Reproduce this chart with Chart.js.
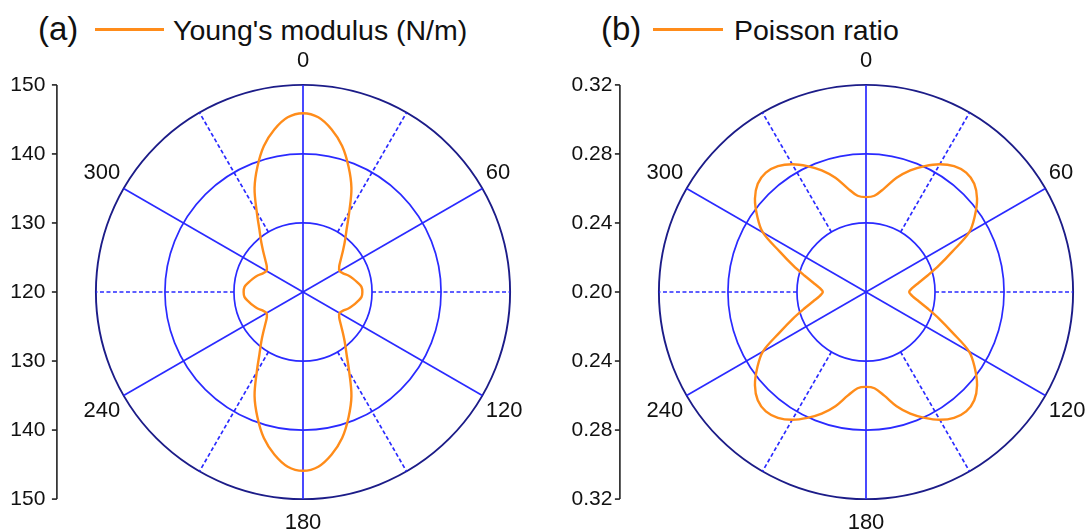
<!DOCTYPE html>
<html>
<head>
<meta charset="utf-8">
<script src="https://cdn.jsdelivr.net/npm/chart.js@4.4.0/dist/chart.umd.min.js"></script>
<style>
  html, body { margin: 0; padding: 0; width: 1091px; height: 531px; overflow: hidden; background: #fff; }
  body { position: relative; font-family: "Liberation Sans", Arial, sans-serif; color: #111; }
  canvas { position: absolute; top: 0; }
  .tag, .name { position: absolute; white-space: nowrap; }
  .tag { top: 11px; font-size: 33px; line-height: 36px; }
  .name { top: 14px; font-size: 28.5px; line-height: 32px; }
  .key { position: absolute; top: 28px; height: 2.5px; background: #ff8c1a; }
</style>
</head>
<body>
<span class="tag" style="left:38px">(a)</span>
<span class="key" style="left:95px;width:69px"></span>
<span class="name" style="left:173px">Young's modulus (N/m)</span>
<span class="tag" style="left:601px">(b)</span>
<span class="key" style="left:653px;width:70px"></span>
<span class="name" style="left:734px">Poisson ratio</span>

<canvas id="chartYoung" width="560" height="600" style="left:0"></canvas>
<canvas id="chartPoisson" width="580" height="600" style="left:545px"></canvas>

<script>
// angoli (gradi, 0 in alto, senso orario)
const angles = [
  0, 5, 10, 15, 20, 25, 30, 35, 40, 45, 50, 55, 60, 65, 70, 75, 80, 85,
  90, 95, 100, 105, 110, 115, 120, 125, 130, 135, 140, 145, 150, 155, 160, 165, 170, 175,
  180, 185, 190, 195, 200, 205, 210, 215, 220, 225, 230, 235, 240, 245, 250, 255, 260, 265,
  270, 275, 280, 285, 290, 295, 300, 305, 310, 315, 320, 325, 330, 335, 340, 345, 350, 355
];
const shownAngles = [0, 60, 120, 180, 240, 300];
const dashedAngles = [30, 90, 150, 210, 270, 330];

// modulo di Young (N/m)
const youngModulus = [
  145.9, 145.4, 143.9, 141.9, 139.3, 136.6, 133.4, 131.0, 129.4, 128.1, 127.1, 126.4, 126.1, 126.4, 127.0, 127.5, 128.0, 128.5,
  128.6, 128.5, 128.0, 127.5, 127.0, 126.4, 126.1, 126.4, 127.1, 128.1, 129.4, 131.0, 133.4, 136.6, 139.3, 141.9, 143.9, 145.4,
  145.9, 145.4, 143.9, 141.9, 139.3, 136.6, 133.4, 131.0, 129.4, 128.1, 127.1, 126.4, 126.1, 126.4, 127.0, 127.5, 128.0, 128.5,
  128.6, 128.5, 128.0, 127.5, 127.0, 126.4, 126.1, 126.4, 127.1, 128.1, 129.4, 131.0, 133.4, 136.6, 139.3, 141.9, 143.9, 145.4
];
const youngTicks = [120, 130, 140, 150];

// rapporto di Poisson
const poissonRatio = [
  0.255, 0.256, 0.261, 0.2685, 0.275, 0.2805, 0.2855, 0.289, 0.2903, 0.2887, 0.284, 0.277, 0.269, 0.255, 0.245, 0.237, 0.231, 0.227,
  0.225, 0.227, 0.231, 0.237, 0.245, 0.255, 0.269, 0.277, 0.284, 0.2887, 0.2903, 0.289, 0.2855, 0.2805, 0.275, 0.2685, 0.261, 0.256,
  0.255, 0.256, 0.261, 0.2685, 0.275, 0.2805, 0.2855, 0.289, 0.2903, 0.2887, 0.284, 0.277, 0.269, 0.255, 0.245, 0.237, 0.231, 0.227,
  0.225, 0.227, 0.231, 0.237, 0.245, 0.255, 0.269, 0.277, 0.284, 0.2887, 0.2903, 0.289, 0.2855, 0.2805, 0.275, 0.2685, 0.261, 0.256
];
const poissonTicks = [0.20, 0.24, 0.28, 0.32];

const FONT = '"Liberation Sans", Arial, sans-serif';
const ORANGE = '#ff8c1a';
const BLUE = '#2a2aff';
const NAVY = '#1c1c88';

// asse verticale a sinistra del grafico polare
const leftAxis = {
  id: 'leftAxis',
  afterDraw(chart, args, opts) {
    const r = chart.scales.r;
    const ctx = chart.ctx;
    const x = r.xCenter - r.drawingArea - 39;
    ctx.save();
    ctx.strokeStyle = '#222';
    ctx.lineWidth = 1.6;
    ctx.beginPath();
    ctx.moveTo(x, r.yCenter - r.drawingArea);
    ctx.lineTo(x, r.yCenter + r.drawingArea);
    ctx.stroke();
    ctx.font = '21px ' + FONT;
    ctx.fillStyle = '#111';
    ctx.textAlign = 'right';
    ctx.textBaseline = 'middle';
    r.ticks.forEach(t => {
      const d = r.getDistanceFromCenterForValue(t.value);
      const ys = d === 0 ? [r.yCenter] : [r.yCenter - d, r.yCenter + d];
      ys.forEach(y => {
        ctx.beginPath();
        ctx.moveTo(x - 5, y);
        ctx.lineTo(x, y);
        ctx.stroke();
        ctx.fillText(t.label, x - opts.gap, y);
      });
    });
    ctx.restore();
  }
};

function spokeDash(c, firstRing) {
  const r = c.chart.scales.r;
  const skip = r.getDistanceFromCenterForValue(firstRing);
  const dash = [0, skip];
  for (let i = 0; i < 40; i++) dash.push(4, 2.5);
  return dash;
}

function createPolar(canvasId, values, ticks, fmt, pad, gap) {
  return new Chart(document.getElementById(canvasId), {
    type: 'radar',
    data: {
      labels: angles,
      datasets: [{
        data: values,
        borderColor: ORANGE,
        borderWidth: 2.4,
        pointRadius: 0,
        tension: 0.35,
        fill: false
      }]
    },
    options: {
      responsive: false,
      animation: false,
      layout: { padding: pad },
      plugins: {
        legend: { display: false },
        tooltip: { enabled: false },
        leftAxis: { gap: gap }
      },
      scales: {
        r: {
          min: ticks[0],
          max: ticks[ticks.length - 1],
          afterBuildTicks: s => { s.ticks = ticks.map(v => ({ value: v })); },
          ticks: { display: false, callback: fmt },
          grid: {
            circular: true,
            color: c => c.index === ticks.length - 1 ? NAVY : BLUE,
            lineWidth: c => c.index === ticks.length - 1 ? 1.9 : 1.7
          },
          angleLines: {
            color: BLUE,
            lineWidth: c => {
              const a = angles[c.index];
              return (shownAngles.includes(a) || dashedAngles.includes(a)) ? 1.7 : 0;
            },
            borderDash: c => dashedAngles.includes(angles[c.index]) ? spokeDash(c, ticks[1]) : []
          },
          pointLabels: {
            callback: l => shownAngles.includes(+l) ? String(l) : '',
            font: { size: 22, family: FONT },
            color: '#111',
            padding: c => (angles[c.index] % 180 === 0) ? 10.5 : 4
          }
        }
      }
    },
    plugins: [leftAxis]
  });
}

createPolar('chartYoung', youngModulus, youngTicks, v => String(v),
  { left: 60, top: 48, right: 12, bottom: 64 }, 11.5);
createPolar('chartPoisson', poissonRatio, poissonTicks, v => v.toFixed(2),
  { left: 78, top: 48, right: 14, bottom: 64 }, 7.5);
</script>
</body>
</html>
